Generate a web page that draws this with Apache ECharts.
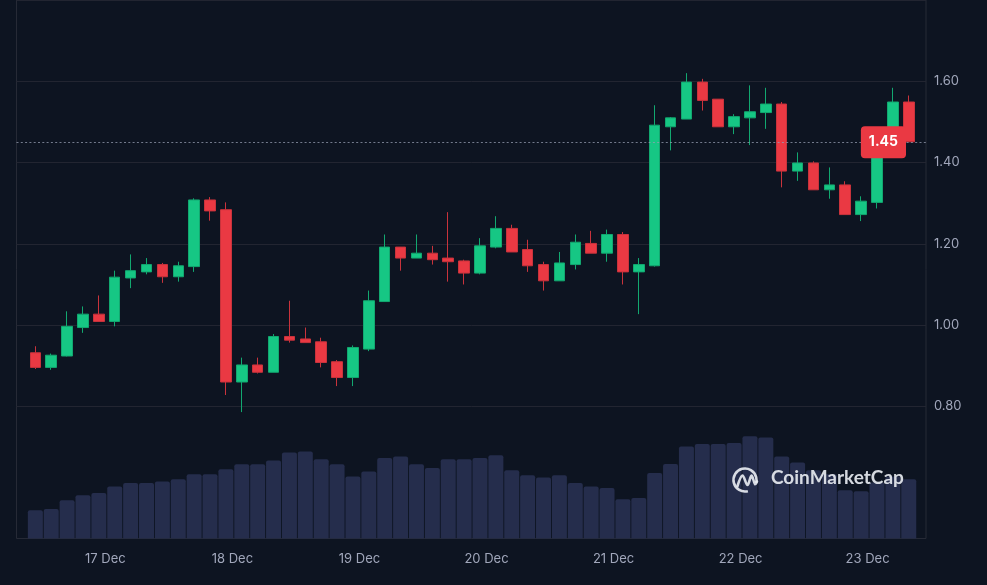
<!DOCTYPE html>
<html><head><meta charset="utf-8">
<script src="https://cdn.jsdelivr.net/npm/echarts@6/dist/echarts.min.js"></script>
<style>html,body{margin:0;padding:0;background:#0d1421;}#c{width:987px;height:585px;}</style>
</head><body><div id="c"></div>
<script>
const categories = [
 '16 Dec 10:50','16 Dec 13:50','16 Dec 16:50','16 Dec 19:50','16 Dec 22:50',
 '17 Dec 01:50','17 Dec 04:50','17 Dec 07:50','17 Dec 10:50','17 Dec 13:50','17 Dec 16:50','17 Dec 19:50','17 Dec 22:50',
 '18 Dec 01:50','18 Dec 04:50','18 Dec 07:50','18 Dec 10:50','18 Dec 13:50','18 Dec 16:50','18 Dec 19:50','18 Dec 22:50',
 '19 Dec 01:50','19 Dec 04:50','19 Dec 07:50','19 Dec 10:50','19 Dec 13:50','19 Dec 16:50','19 Dec 19:50','19 Dec 22:50',
 '20 Dec 01:50','20 Dec 04:50','20 Dec 07:50','20 Dec 10:50','20 Dec 13:50','20 Dec 16:50','20 Dec 19:50','20 Dec 22:50',
 '21 Dec 01:50','21 Dec 04:50','21 Dec 07:50','21 Dec 10:50','21 Dec 13:50','21 Dec 16:50','21 Dec 19:50','21 Dec 22:50',
 '22 Dec 01:50','22 Dec 04:50','22 Dec 07:50','22 Dec 10:50','22 Dec 13:50','22 Dec 16:50','22 Dec 19:50','22 Dec 22:50',
 '23 Dec 01:50','23 Dec 04:50','23 Dec 07:50'
];
const opens = [0.932,0.896,0.924,0.994,1.027,1.009,1.116,1.131,1.149,1.119,1.144,1.308,1.284,0.860,
 0.902,0.884,0.972,0.966,0.959,0.910,0.871,0.941,1.058,1.192,1.165,1.177,1.165,1.158,
 1.128,1.192,1.238,1.186,1.149,1.109,1.149,1.201,1.177,1.223,1.131,1.146,1.488,1.507,
 1.598,1.556,1.488,1.510,1.523,1.544,1.379,1.399,1.333,1.345,1.272,1.302,1.460,1.549];
const closes = [0.896,0.926,0.997,1.027,1.009,1.118,1.134,1.149,1.119,1.146,1.308,1.281,0.860,0.902,
 0.884,0.972,0.963,0.957,0.908,0.871,0.945,1.060,1.192,1.165,1.177,1.161,1.156,1.128,
 1.195,1.238,1.180,1.146,1.109,1.153,1.204,1.177,1.223,1.131,1.149,1.492,1.510,1.598,
 1.553,1.488,1.513,1.525,1.544,1.379,1.399,1.333,1.345,1.272,1.305,1.460,1.549,1.451];
const lows = [0.892,0.890,0.923,0.981,1.009,0.997,1.091,1.125,1.104,1.107,1.131,1.257,0.828,0.786,
 0.881,0.884,0.957,0.957,0.896,0.850,0.850,0.936,1.058,1.134,1.165,1.149,1.107,1.100,
 1.125,1.189,1.180,1.131,1.085,1.109,1.137,1.177,1.156,1.100,1.027,1.144,1.430,1.507,
 1.528,1.488,1.470,1.443,1.483,1.339,1.355,1.333,1.311,1.272,1.256,1.287,1.455,1.451];
const highs = [0.948,0.930,1.034,1.046,1.073,1.134,1.174,1.165,1.153,1.156,1.312,1.315,1.302,0.920,
 0.920,0.978,1.060,0.994,0.969,0.914,0.950,1.085,1.223,1.192,1.223,1.195,1.278,1.161,
 1.214,1.268,1.247,1.210,1.156,1.180,1.223,1.232,1.235,1.229,1.165,1.541,1.512,1.620,
 1.606,1.556,1.519,1.590,1.584,1.549,1.425,1.403,1.388,1.354,1.317,1.460,1.584,1.565];
const volumes = [2.83,2.96,3.83,4.33,4.56,5.20,5.56,5.56,5.70,5.93,6.43,6.43,6.93,7.43,
 7.43,7.80,8.60,8.70,7.93,7.43,6.20,6.70,8.06,8.20,7.43,7.06,7.93,7.93,
 8.06,8.33,6.83,6.33,6.10,6.33,5.56,5.20,5.06,3.93,4.06,6.56,7.46,9.20,
 9.46,9.46,9.56,10.23,10.10,8.20,7.60,6.83,6.43,4.83,4.73,5.60,6.20,5.93];
const priceTicks = [0.80,1.00,1.20,1.40,1.60];
const dayLabels = ['17 Dec','18 Dec','19 Dec','20 Dec','21 Dec','22 Dec','23 Dec'];
const dayLabelIndex = [4,12,20,28,36,44,52];
const currentPrice = 1.45;

const UP = '#16c784', DOWN = '#ea3943';
const candleData = opens.map((o,i)=>[o, closes[i], lows[i], highs[i]]);
const chart = echarts.init(document.getElementById('c'), null, {renderer:'canvas'});
const P = {top:-2.8, height:409.2};
const font = 'Inter';
chart.setOption({
  backgroundColor:'#0d1421',
  animation:false,
  grid:[
    {left:16.5, right:61, top:P.top, height:P.height},
    {left:27.4, right:70.3, top:P.top, height:P.height},
    {left:27.4, right:70.3, top:418.5, bottom:46.5},
    {left:16.5, right:61, top:-4, bottom:46.5, show:true, borderColor:'#262a36', borderWidth:1, backgroundColor:'transparent'}
  ],
  xAxis:[
    {gridIndex:0, type:'value', min:0, max:1, show:false},
    {gridIndex:1, type:'category', data:categories, show:false},
    {gridIndex:2, type:'category', data:categories, axisLine:{show:false}, axisTick:{show:false},
      axisLabel:{interval:(i)=>dayLabelIndex.includes(i), formatter:(v,i)=>dayLabels[dayLabelIndex.indexOf(i)],
        color:'#a1a7bb', fontFamily:font, fontSize:13, margin:14, padding:[0,0,0,13]}},
    {gridIndex:3, type:'value', show:false}
  ],
  yAxis:[
    {gridIndex:0, type:'value', position:'right', min:0.8, max:1.8, interval:0.2,
      axisLine:{show:false}, axisTick:{show:false},
      splitLine:{lineStyle:{color:'#222531', width:1}},
      axisLabel:{color:'#a1a7bb', fontFamily:font, fontSize:13, margin:8,
        formatter:(v)=> priceTicks.some(t=>Math.abs(t-v)<1e-6) ? v.toFixed(2) : ''}},
    {gridIndex:1, type:'value', min:0.8, max:1.8, show:false},
    {gridIndex:2, type:'value', min:0, max:12, show:false},
    {gridIndex:3, type:'value', show:false}
  ],
  series:[
    {type:'bar', xAxisIndex:2, yAxisIndex:2, data:volumes, barWidth:15,
      itemStyle:{color:'#252d4c', borderRadius:[2,2,0,0]}, silent:true},
    {type:'candlestick', xAxisIndex:1, yAxisIndex:1, data:candleData, barWidth:11, clip:false,
      itemStyle:{color:UP, color0:DOWN, borderColor:'#12a870', borderColor0:'#c9333c', borderWidth:1}},
    {type:'line', xAxisIndex:0, yAxisIndex:0, data:[], silent:true,
      markLine:{silent:true, symbol:['none','none'],
        lineStyle:{color:'rgba(150,158,178,0.75)', type:[2,2.3], width:1},
        label:{show:true, position:'insideEnd', distance:[20,0], formatter:()=>currentPrice.toFixed(2),
          backgroundColor:DOWN, borderRadius:4, padding:[7,8,7,8], color:'#fff', fontWeight:'bold',
          fontSize:14, lineHeight:18, fontFamily:font},
        data:[{yAxis:currentPrice}]}}
  ],
  graphic:[
    {type:'arc', z:100, shape:{cx:745, cy:480, r:11.5, startAngle:Math.PI*0.42, endAngle:Math.PI*2.08},
      style:{stroke:'rgba(235,238,244,0.9)', lineWidth:2.6, fill:null}},
    {type:'polyline', z:100, shape:{points:[[737.5,486],[742.5,475.5],[747.5,485],[751.5,475.5],[755,484],[757,481.5]], smooth:0.35},
      style:{stroke:'rgba(235,238,244,0.9)', lineWidth:2.6, fill:null, lineCap:'round', lineJoin:'round'}},
    {type:'text', z:100, left:771, top:468, style:{text:'CoinMarketCap', fill:'rgba(235,238,244,0.9)', font:'bold 19px Lato'}}
  ]
});
</script></body></html>
